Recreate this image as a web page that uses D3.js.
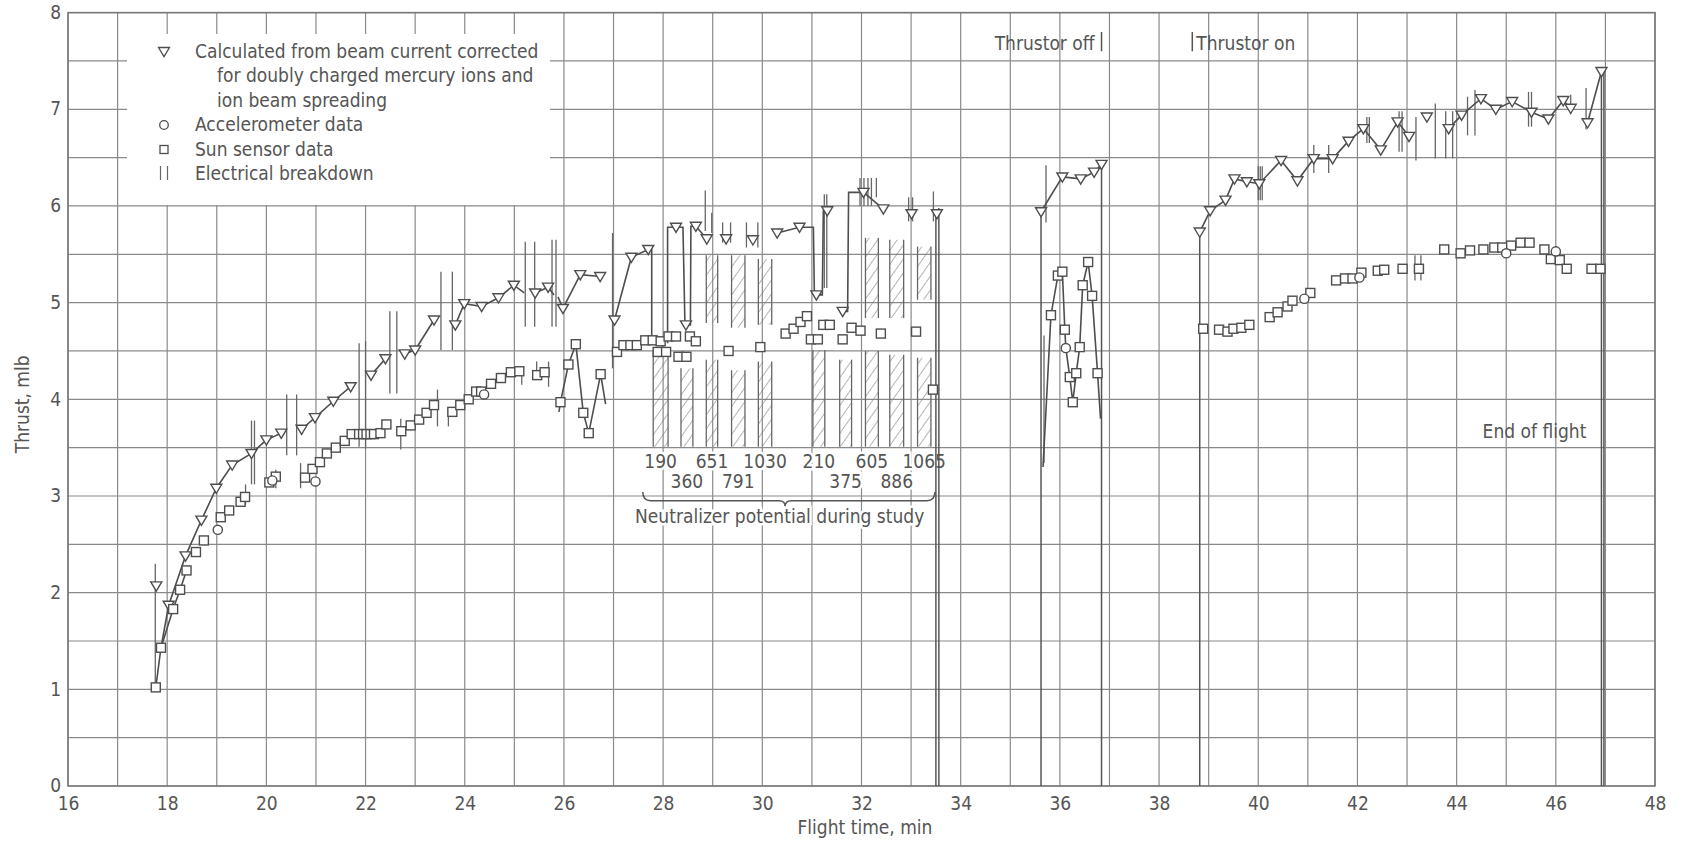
<!DOCTYPE html>
<html>
<head>
<meta charset="utf-8">
<script src="https://cdn.jsdelivr.net/npm/d3@7"></script>
<style>
  html, body { margin: 0; padding: 0; background: #fff; }
  svg { display: block; }
  text { font-family: "DejaVu Sans Condensed", "Liberation Sans Narrow", "Arial Narrow", sans-serif; fill: #555; }
</style>
</head>
<body>
<svg id="chart" width="1681" height="842"></svg>
<script>
// ---- Data: thrust (mlb) versus flight time (min) ----

// Calculated from beam current (triangles). Runs are joined by a line;
// a third element of 0 marks a bend in the line that carries no symbol.
const calcRuns = [
  [[17.875,1.43,0],[18.03,1.87],[18.37,2.38],[18.69,2.75],[18.99,3.08],[19.31,3.32],[19.70,3.44],[20.0,3.58],[20.3,3.65]],
  [[20.71,3.69],[20.98,3.81],[21.35,3.98],[21.7,4.13]],
  [[22.11,4.25],[22.4,4.42]],
  [[22.79,4.47],[23.0,4.51],[23.38,4.82]],
  [[23.81,4.77],[23.99,4.99],[24.34,4.96],[24.68,5.05],[24.99,5.18],[25.2,5.1,0]],
  [[25.42,5.1],[25.68,5.16],[25.8,5.08,0]],
  [[25.88,5.06,0],[25.98,4.94],[26.33,5.29],[26.73,5.27]],
  [[27.02,4.82],[27.36,5.47],[27.7,5.55],[27.77,5.55,0],[27.77,4.58,0]],
  [[28.09,4.58,0],[28.09,5.78,0],[28.26,5.78],[28.4,5.78,0],[28.44,4.77,0],[28.46,4.77],[28.55,4.77,0],[28.56,5.79,0],[28.66,5.79],[28.88,5.66]],
  [[30.3,5.72],[30.75,5.78],[31.03,5.78,0],[31.05,5.08,0],[31.09,5.08],[31.21,5.08,0],[31.23,5.95,0],[31.31,5.95],[31.35,5.97,0]],
  [[31.62,4.91],[31.72,4.91,0],[31.74,6.14,0],[32.04,6.14],[32.44,5.97]],
  [[35.62,5.94],[36.05,6.3],[36.42,6.28],[36.69,6.35],[36.84,6.43]],
  [[38.82,5.73],[39.03,5.95],[39.34,6.06],[39.52,6.28],[39.77,6.25],[40.02,6.23],[40.46,6.47],[40.79,6.26],[41.12,6.49],[41.5,6.49],[41.82,6.67],[42.12,6.8],[42.47,6.58],[42.81,6.87],[43.04,6.72]],
  [[43.84,6.8],[44.1,6.94],[44.49,7.11],[44.79,7.0],[45.12,7.08],[45.51,6.97],[45.85,6.9],[46.15,7.09],[46.3,7.01]],
  [[46.64,6.86],[46.92,7.39]]
];
const calcSingles = [[17.78,2.07],[29.27,5.66],[29.81,5.65],[33.01,5.92],[33.52,5.92],[43.4,6.92]];

// Sun sensor data (squares)
const sunRuns = [
  [[17.77,1.02],[17.875,1.43],[18.12,1.83],[18.26,2.03],[18.39,2.23]],
  [[25.9,3.87,0],[25.93,3.97],[26.09,4.36],[26.24,4.57],[26.39,3.86],[26.5,3.65],[26.74,4.26],[26.84,3.95,0]],
  [[35.66,3.3,0],[35.82,4.87],[35.96,5.28],[36.05,5.32],[36.1,4.72],[36.12,4.53,0],[36.2,4.23],[36.26,3.97],[36.33,4.27],[36.4,4.54],[36.46,5.18],[36.57,5.42],[36.65,5.07],[36.76,4.27],[36.82,3.8,0]]
];
const sunSingles = [
  [18.58,2.42],[18.74,2.54],[19.08,2.78],[19.25,2.85],[19.48,2.94],[19.57,2.99],
  [20.06,3.14],[20.19,3.2],[20.78,3.19],[20.93,3.28],[21.08,3.35],[21.22,3.44],[21.40,3.50],[21.58,3.57],[21.72,3.64],
  [21.87,3.64],[21.95,3.64],[22.02,3.64],[22.1,3.64],[22.17,3.64],[22.3,3.65],[22.42,3.74],[22.72,3.67],[22.91,3.73],
  [23.08,3.79],[23.23,3.86],[23.38,3.94],[23.75,3.87],[23.91,3.94],[24.08,4.0],[24.23,4.08],[24.33,4.08],[24.53,4.16],
  [24.73,4.22],[24.93,4.28],[25.1,4.29],[25.46,4.25],[25.61,4.28],
  [27.07,4.49],[27.2,4.56],[27.34,4.56],[27.47,4.56],[27.64,4.61],[27.79,4.61],[27.89,4.49],[27.95,4.6],[28.06,4.49],
  [28.11,4.65],[28.26,4.65],[28.31,4.44],[28.47,4.44],[28.54,4.65],[28.66,4.6],[29.32,4.5],[29.96,4.54],
  [30.47,4.68],[30.63,4.73],[30.77,4.8],[30.9,4.86],[30.98,4.62],[31.12,4.62],[31.23,4.77],[31.36,4.77],[31.62,4.62],
  [31.8,4.74],[31.98,4.71],[32.39,4.68],[33.1,4.7],[33.44,4.1],
  [38.89,4.73],[39.21,4.72],[39.38,4.7],[39.5,4.73],[39.66,4.74],[39.82,4.77],[40.23,4.85],[40.39,4.9],[40.59,4.96],
  [40.69,5.02],[41.05,5.1],[41.57,5.23],[41.75,5.25],[41.9,5.25],[42.08,5.31],[42.41,5.33],[42.54,5.34],[42.91,5.35],
  [43.24,5.35],[43.75,5.55],[44.08,5.51],[44.27,5.54],[44.54,5.55],[44.76,5.57],[44.92,5.57],[45.1,5.59],[45.29,5.62],
  [45.47,5.62],[45.77,5.55],[45.9,5.45],[46.08,5.44],[46.22,5.35],[46.72,5.35],[46.9,5.35]
];

// Accelerometer data (circles)
const accelPoints = [[19.02,2.65],[20.12,3.16],[20.99,3.15],[24.39,4.05],[36.12,4.53],[40.93,5.04],[42.04,5.26],[45.0,5.51],[46.0,5.53]];

// Electrical breakdown marks: [time, low thrust, high thrust]
const breakdowns = [
  [17.76,1.05,2.3],[19.58,2.91,3.12],[19.70,3.12,3.78],[19.76,3.12,3.78],[20.19,3.08,3.27],[20.41,3.42,4.05],
  [20.61,3.42,4.05],[20.69,3.08,3.34],[21.87,3.51,4.58],[22.0,3.49,4.6],[22.49,4.06,4.91],[22.63,4.06,4.91],
  [22.71,3.48,3.8],[23.45,3.72,4.1],[23.52,4.51,5.32],[23.67,3.72,3.91],[23.75,4.51,5.32],[25.15,4.15,4.34],
  [25.22,4.75,5.63],[25.41,4.75,5.63],[25.45,4.2,4.39],[25.69,4.13,4.39],[25.76,4.75,5.65],[25.84,4.75,5.65],
  [26.98,4.32,5.72],[28.85,5.74,6.16],[28.98,5.72,5.93],[29.2,5.62,5.83],[29.36,5.62,5.83],[29.68,5.57,5.83],
  [29.91,5.57,5.83],[31.25,5.15,6.12],[31.3,5.15,6.12],[31.97,6.0,6.29],[32.05,6.0,6.29],[32.13,6.0,6.29],
  [32.2,6.0,6.29],[32.3,6.09,6.29],[32.95,5.84,6.09],[33.03,5.84,6.09],[33.45,5.84,6.15],[35.68,3.34,4.66],
  [35.72,5.83,6.42],[40.0,6.06,6.41],[40.04,6.06,6.41],[40.08,6.06,6.41],[41.12,6.34,6.63],[41.42,6.34,6.63],
  [42.19,6.65,6.92],[42.24,6.65,6.92],[42.84,6.56,6.98],[42.9,6.56,6.98],[43.18,6.47,6.92],[43.16,5.23,5.49],
  [43.28,5.23,5.49],[43.57,6.49,7.06],[43.78,6.49,6.98],[43.92,6.49,6.98],[44.22,6.73,7.13],[44.37,6.73,7.2],
  [45.45,6.82,7.18],[45.51,6.82,7.18],[46.3,6.95,7.15],[46.61,6.79,7.22]
];

// Thrustor shut-down / start-up / end-of-flight traces: [time, thrust at top]
const dropLines = [[33.5,5.92],[33.56,5.98],[35.62,5.94],[36.84,6.43],[38.82,5.73],[46.92,7.39],[46.97,7.39]];

// Neutralizer potential studies: potential (V), label row, study interval [start, end] in min
const neutralizerPotential = [190, 360, 651, 791, 1030, 210, 375, 605, 886, 1065];
const labelRow = [0, 1, 0, 1, 0, 0, 1, 0, 1, 0];
const studyStart = [27.8, 28.36, 28.87, 29.38, 29.92, 31.02, 31.56, 32.08, 32.57, 33.13];
const studyEnd   = [28.1, 28.6, 29.1, 29.65, 30.19, 31.26, 31.8, 32.34, 32.85, 33.4];
const studyLowerTop = [4.5, 4.32, 4.41, 4.3, 4.39, 4.51, 4.41, 4.5, 4.46, 4.43];
const studyUpperSpan = [null, null, [4.79,5.49], [4.74,5.49], [4.77,5.45], null, null, [4.84,5.67], [4.84,5.65], [5.03,5.58]];
const studyBase = 3.51;

const xTicks = d3.range(16, 49, 2);
const yTicks = d3.range(0, 9, 1);

// ---- Layout ----
const svg = d3.select("#chart");
const x = d3.scaleLinear().domain([16, 48]).range([68, 1655]);
const y = d3.scaleLinear().domain([0, 8]).range([786, 12.6]);

const ink = "#4e4e4e";
const gridColor = "#8a8a8a";
const FS = 19;

// hatch pattern for study intervals
const defs = svg.append("defs");
const pat = defs.append("pattern").attr("id", "hatch").attr("patternUnits", "userSpaceOnUse")
  .attr("width", 8).attr("height", 8).attr("patternTransform", "rotate(35)");
pat.append("line").attr("x1", 0).attr("y1", 0).attr("x2", 0).attr("y2", 8)
  .attr("stroke", "#777").attr("stroke-width", 1.1);

// grid
const grid = svg.append("g");
grid.selectAll("line.v").data(d3.range(16, 49, 1)).join("line")
  .attr("x1", d => x(d)).attr("x2", d => x(d)).attr("y1", y(0)).attr("y2", y(8))
  .attr("stroke", gridColor).attr("stroke-width", 1.2);
grid.selectAll("line.h").data(d3.range(0, 8.01, 0.5)).join("line")
  .attr("x1", x(16)).attr("x2", x(48)).attr("y1", d => y(d)).attr("y2", d => y(d))
  .attr("stroke", gridColor).attr("stroke-width", 1.2);
svg.append("rect").attr("x", x(16)).attr("y", y(8)).attr("width", x(48) - x(16)).attr("height", y(0) - y(8))
  .attr("fill", "none").attr("stroke", "#777").attr("stroke-width", 1.5);

// axes
const xAxis = svg.append("g").attr("transform", `translate(0,${y(0)})`)
  .call(d3.axisBottom(x).tickValues(xTicks).tickSize(0).tickPadding(10).tickFormat(d3.format("d")));
const yAxis = svg.append("g").attr("transform", `translate(${x(16)},0)`)
  .call(d3.axisLeft(y).tickValues(yTicks).tickSize(0).tickPadding(7).tickFormat(d3.format("d")));
[xAxis, yAxis].forEach(a => {
  a.select(".domain").remove();
  a.selectAll("text").attr("font-size", FS).attr("fill", "#555")
    .attr("font-family", '"DejaVu Sans Condensed", "Liberation Sans Narrow", sans-serif');
});
xAxis.selectAll("text").attr("dy", "0.72em");
yAxis.selectAll("text").attr("dy", "0.3em");

svg.append("text").attr("font-size", FS)
  .attr("transform", `translate(29,${y(4) + 5}) rotate(-90)`).attr("text-anchor", "middle").text("Thrust, mlb");
svg.append("text").attr("font-size", FS)
  .attr("x", x(32.07)).attr("y", 834).attr("text-anchor", "middle").text("Flight time, min");

// legend panel
svg.append("rect").attr("x", 127).attr("y", 34).attr("width", 423).attr("height", 171).attr("fill", "#fff");

// study intervals (hatched)
const study = svg.append("g");
neutralizerPotential.forEach((p, i) => {
  const spans = [[studyBase, studyLowerTop[i]]];
  if (studyUpperSpan[i]) spans.push(studyUpperSpan[i]);
  spans.forEach(s => {
    study.append("rect").attr("x", x(studyStart[i])).attr("y", y(s[1]))
      .attr("width", x(studyEnd[i]) - x(studyStart[i])).attr("height", y(s[0]) - y(s[1]))
      .attr("fill", "url(#hatch)").attr("stroke", "none");
    [studyStart[i], studyEnd[i]].forEach(t => study.append("line")
      .attr("x1", x(t)).attr("x2", x(t)).attr("y1", y(s[0])).attr("y2", y(s[1]))
      .attr("stroke", "#666").attr("stroke-width", 1.3));
  });
});

// neutralizer labels
const lab = svg.append("g");
neutralizerPotential.forEach((p, i) => {
  const mid = (studyStart[i] + studyEnd[i]) / 2;
  lab.append("text").attr("x", x(mid)).attr("y", labelRow[i] === 0 ? y(3.29) : y(3.08))
    .attr("text-anchor", "middle").attr("font-size", FS)
    .attr("stroke", "#fff").attr("stroke-width", 5).attr("paint-order", "stroke")
    .text(p);
});
const bx0 = x(27.59), bx1 = x(33.48), bxm = x(30.46);
const by0 = y(3.04), by1 = y(2.95), by2 = y(2.89);
lab.append("path")
  .attr("d", `M${bx0},${by0} Q${bx0},${by1} ${bx0 + 8},${by1} L${bxm - 6},${by1} Q${bxm},${by1} ${bxm},${by2}
              Q${bxm},${by1} ${bxm + 6},${by1} L${bx1 - 8},${by1} Q${bx1},${by1} ${bx1},${by0}`)
  .attr("fill", "none").attr("stroke", "#555").attr("stroke-width", 1.5);
lab.append("text").attr("x", x(30.35)).attr("y", y(2.72))
  .attr("text-anchor", "middle").attr("font-size", FS)
  .attr("stroke", "#fff").attr("stroke-width", 5).attr("paint-order", "stroke")
  .text("Neutralizer potential during study");

// thrustor transition and end-of-flight traces
svg.append("g").selectAll("line").data(dropLines).join("line")
  .attr("x1", d => x(d[0])).attr("x2", d => x(d[0])).attr("y1", d => y(d[1])).attr("y2", y(0))
  .attr("stroke", "#555").attr("stroke-width", 1.5);

// electrical breakdown marks
svg.append("g").selectAll("line").data(breakdowns).join("line")
  .attr("x1", d => x(d[0])).attr("x2", d => x(d[0])).attr("y1", d => y(d[1])).attr("y2", d => y(d[2]))
  .attr("stroke", "#666").attr("stroke-width", 1.3);

// connecting lines
const line = d3.line().x(d => x(d[0])).y(d => y(d[1]));
svg.append("g").selectAll("path").data(calcRuns.concat(sunRuns)).join("path")
  .attr("d", line).attr("fill", "none").attr("stroke", ink).attr("stroke-width", 1.6);

// symbols
const tri = "M-5.5,-4 L5.5,-4 L0,5.2 Z";
const triPts = calcRuns.flat().filter(d => d[2] !== 0).concat(calcSingles);
svg.append("g").selectAll("path").data(triPts).join("path")
  .attr("d", tri).attr("transform", d => `translate(${x(d[0])},${y(d[1])})`)
  .attr("fill", "#fff").attr("stroke", ink).attr("stroke-width", 1.4);
const sqPts = sunRuns.flat().filter(d => d[2] !== 0).concat(sunSingles);
svg.append("g").selectAll("rect").data(sqPts).join("rect")
  .attr("x", d => x(d[0]) - 4.5).attr("y", d => y(d[1]) - 4.5).attr("width", 9).attr("height", 9)
  .attr("fill", "#fff").attr("stroke", ink).attr("stroke-width", 1.4);
svg.append("g").selectAll("circle").data(accelPoints).join("circle")
  .attr("cx", d => x(d[0])).attr("cy", d => y(d[1])).attr("r", 4.6)
  .attr("fill", "#fff").attr("stroke", ink).attr("stroke-width", 1.4);

// legend
const lg = svg.append("g");
const legendRows = [
  {sym: "tri", lines: ["Calculated from beam current corrected", "for doubly charged mercury ions and", "ion beam spreading"]},
  {sym: "circle", lines: ["Accelerometer data"]},
  {sym: "square", lines: ["Sun sensor data"]},
  {sym: "bars", lines: ["Electrical breakdown"]}
];
let baseY = 57.5;
legendRows.forEach(r => {
  const cy = baseY - 6;
  if (r.sym === "tri") lg.append("path").attr("d", tri).attr("transform", `translate(164,${cy})`)
    .attr("fill", "#fff").attr("stroke", ink).attr("stroke-width", 1.3);
  if (r.sym === "circle") lg.append("circle").attr("cx", 164).attr("cy", cy).attr("r", 4.3)
    .attr("fill", "#fff").attr("stroke", ink).attr("stroke-width", 1.3);
  if (r.sym === "square") lg.append("rect").attr("x", 160).attr("y", cy - 4).attr("width", 8).attr("height", 8)
    .attr("fill", "#fff").attr("stroke", ink).attr("stroke-width", 1.3);
  if (r.sym === "bars") [160.5, 167.5].forEach(bx => lg.append("line")
    .attr("x1", bx).attr("x2", bx).attr("y1", cy - 8).attr("y2", cy + 6).attr("stroke", "#666").attr("stroke-width", 1.2));
  r.lines.forEach((t, k) => {
    lg.append("text").attr("x", k === 0 ? 195 : 217).attr("y", baseY)
      .attr("font-size", FS).text(t);
    baseY += 24.5;
  });
});

// event annotations
svg.append("text").attr("x", x(36.84) - 7).attr("y", y(7.61))
  .attr("text-anchor", "end").attr("font-size", FS).text("Thrustor off");
svg.append("line").attr("x1", x(36.84)).attr("x2", x(36.84)).attr("y1", y(7.6)).attr("y2", y(7.8))
  .attr("stroke", "#555").attr("stroke-width", 1.5);
svg.append("line").attr("x1", x(38.67)).attr("x2", x(38.67)).attr("y1", y(7.6)).attr("y2", y(7.8))
  .attr("stroke", "#555").attr("stroke-width", 1.5);
svg.append("text").attr("x", x(38.67) + 4).attr("y", y(7.61))
  .attr("font-size", FS).text("Thrustor on");
svg.append("text").attr("x", x(45.57)).attr("y", y(3.6))
  .attr("text-anchor", "middle").attr("font-size", FS).text("End of flight");
</script>
</body>
</html>
